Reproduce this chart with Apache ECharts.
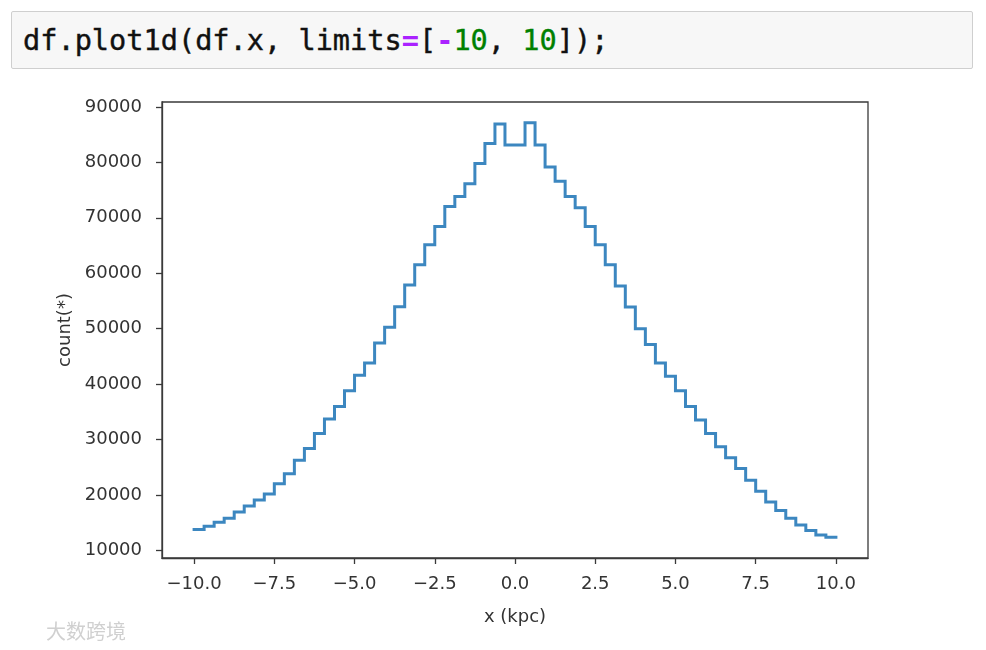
<!DOCTYPE html>
<html>
<head>
<meta charset="utf-8">
<script src="https://cdn.jsdelivr.net/npm/echarts@6/dist/echarts.min.js"></script>
<style>
  html, body { margin: 0; padding: 0; background: #ffffff; }
  #chart { position: absolute; left: 0; top: 0; width: 986px; height: 650px; }
  #cell {
    position: absolute; left: 11px; top: 11px; width: 960px; height: 56px;
    border: 1px solid #cfcfcf; border-radius: 2px; background: #f7f7f7;
    font-family: "DejaVu Sans Mono", "Liberation Mono", monospace; font-size: 28.6px;
    line-height: 56px; color: #111; box-sizing: content-box; z-index: 2;
  }
  #cell pre { margin: 0 0 0 11px; font: inherit; line-height: inherit; -webkit-text-stroke: 0.4px #111; }
  .op { color: #aa22ff; font-weight: bold; -webkit-text-stroke: 0 !important; }
  .num { color: #008000; -webkit-text-stroke: 0.4px #008000; }
</style>
</head>
<body>
<div id="chart"></div>
<div id="cell"><pre>df.plot1d(df.x, limits<span class="op">=</span>[<span class="op">-</span><span class="num">10</span>, <span class="num">10</span>]);</pre></div>
<script>
// ---- data ----
const limits = [-10, 10];
const counts = [
  13760, 14360, 15080, 15810, 16900, 17980, 19070, 20160, 22030, 23840,
  26270, 28380, 31100, 33710, 35940, 38790, 41570, 43800, 47430, 50270,
  53960, 57890, 61520, 65150, 68410, 72040, 73860, 76160, 79790, 83420,
  86920, 83110, 83110, 87150, 83110, 79170, 76580, 73860, 71810, 68410,
  65150, 61520, 57710, 53900, 49970, 47140, 43800, 41390, 38790, 35940,
  33530, 31100, 28690, 26690, 24750, 22650, 20650, 18710, 17200, 15810,
  14590, 13580, 12780, 12360
];
const xTicks = [-10, -7.5, -5, -2.5, 0, 2.5, 5, 7.5, 10];
const yTicks = [10000, 20000, 30000, 40000, 50000, 60000, 70000, 80000, 90000];
const xName = 'x (kpc)';
const yName = 'count(*)';
const watermark = '大数跨境';

// ---- build step data (bin edges from limits) ----
const N = counts.length;
const w = (limits[1] - limits[0]) / N;
const stepData = counts.map((c, i) => [limits[0] + i * w, c]);
stepData.push([limits[1], counts[N - 1]]);

const fmtX = v => (v < 0 ? '\u2212' : '') + Math.abs(v).toFixed(1);
const fmtY = v => String(Math.round(v));
const axisColor = '#3a3a3a';
const textColor = '#333333';
const font = 'DejaVu Sans';

const chart = echarts.init(document.getElementById('chart'), null, { renderer: 'canvas' });
chart.setOption({
  animation: false,
  backgroundColor: '#ffffff',
  grid: {
    left: 162, top: 102, width: 706, height: 456,
    show: true, borderColor: axisColor, borderWidth: 1.3, backgroundColor: 'transparent'
  },
  xAxis: {
    type: 'value', min: -11, max: 11,
    axisLine: { show: true, onZero: false, lineStyle: { color: axisColor, width: 1.3 } },
    axisTick: { show: true, customValues: xTicks, length: 6, lineStyle: { color: axisColor, width: 1.3 } },
    axisLabel: {
      customValues: xTicks, formatter: fmtX, margin: 17,
      fontFamily: font, fontSize: 18, color: textColor
    },
    splitLine: { show: false },
    name: xName, nameLocation: 'middle', nameGap: 50,
    nameTextStyle: { fontFamily: font, fontSize: 18, color: textColor }
  },
  yAxis: {
    type: 'value', min: 8620, max: 90890,
    axisLine: { show: true, onZero: false, lineStyle: { color: axisColor, width: 1.3 } },
    axisTick: { show: true, customValues: yTicks, length: 6, lineStyle: { color: axisColor, width: 1.3 } },
    axisLabel: {
      customValues: yTicks, formatter: fmtY, margin: 20,
      fontFamily: font, fontSize: 18, color: textColor
    },
    splitLine: { show: false },
    name: yName, nameLocation: 'middle', nameGap: 84,
    nameTextStyle: { fontFamily: font, fontSize: 18, color: textColor }
  },
  graphic: [{
    type: 'text', left: 46, top: 621,
    style: { text: watermark, fontFamily: 'Noto Sans CJK SC', fontSize: 20, fill: '#d0d0d0' }
  }],
  series: [{
    type: 'line', step: 'end', data: stepData, showSymbol: false,
    lineStyle: { color: '#3c87c0', width: 3, cap: 'square', join: 'miter' },
    z: 3
  }]
});
</script>
</body>
</html>
